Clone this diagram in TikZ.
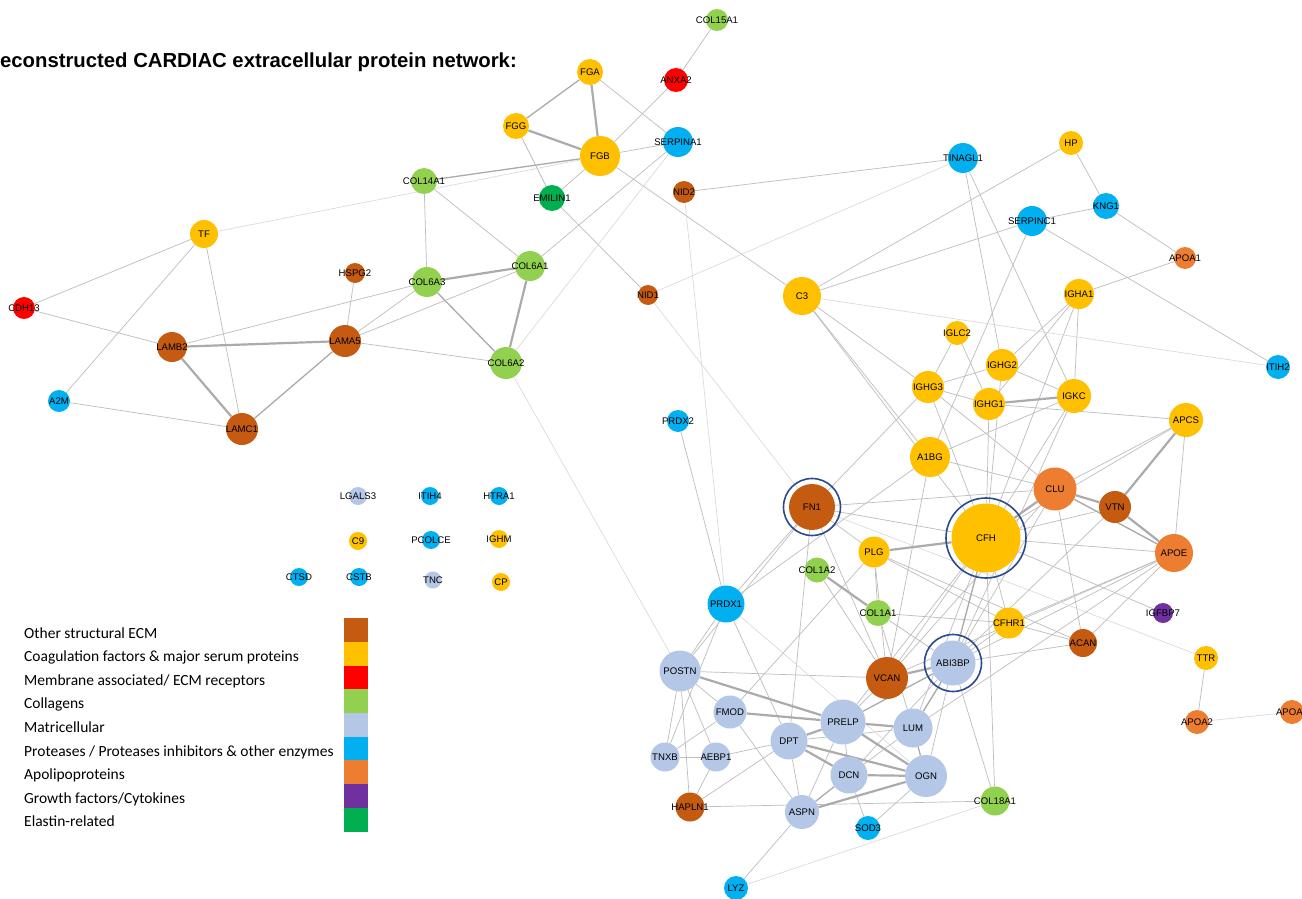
\documentclass[tikz,border=0pt]{standalone}
\usepackage{fontspec}
\setmainfont{Liberation Sans}
\newfontfamily\legfont{Carlito}
\usetikzlibrary{backgrounds}
\definecolor{cBr}{HTML}{C55A11}
\definecolor{cYe}{HTML}{FFC000}
\definecolor{cRe}{HTML}{FF0000}
\definecolor{cGr}{HTML}{92D050}
\definecolor{cLa}{HTML}{B4C7E7}
\definecolor{cBl}{HTML}{00B0F0}
\definecolor{cOr}{HTML}{ED7D31}
\definecolor{cPu}{HTML}{7030A0}
\definecolor{cEl}{HTML}{00B050}
\definecolor{cRing}{HTML}{2B4A8C}
\definecolor{cEdge}{HTML}{BDBDBD}
\definecolor{cEdgeT}{HTML}{ABABAB}
\newcommand\nd[6]{\node[nd,fill=#5,minimum size=#4pt] (#1) at (#2,#3) {};\node[lbl] (#1-l) at (#1.center) {#6};}
\tikzset{
  nd/.style={circle,draw=none,inner sep=0pt},
  lbl/.style={inner sep=0pt,font=\fontsize{9.6}{10}\selectfont,text=black},
  ring/.style={circle,draw=cRing,line width=1.6pt,fill=none,inner sep=0pt},
  e/.style={draw=cEdge,line width=0.7pt},
  el/.style={draw=cEdge!60,line width=0.6pt},
  em/.style={draw=cEdgeT,line width=1.3pt},
  et/.style={draw=cEdgeT,line width=2.2pt},
  legtxt/.style={anchor=base west,inner sep=0pt,font=\legfont\fontsize{15.5}{17}\selectfont},
  legsq/.style={draw=none,minimum width=24pt,minimum height=23.7pt,inner sep=0pt,anchor=north west}
}
\begin{document}
\begin{tikzpicture}[x=1pt,y=-1pt]
\useasboundingbox (0,0) rectangle (1302,899);
% ---- nodes ----
\nd{COLxvA}{717}{20}{22}{cGr}{COL15A1}
\nd{FGA}{590}{72}{26}{cYe}{FGA}
\nd{ANXA}{676}{80}{24}{cRe}{ANXA2}
\nd{FGG}{516}{126}{26}{cYe}{FGG}
\nd{FGB}{600}{156}{40}{cYe}{FGB}
\nd{SERPA}{678}{142}{30}{cBl}{SERPINA1}
\nd{NIDb}{684}{192}{22}{cBr}{NID2}
\nd{EMILIN}{552}{198}{26}{cEl}{EMILIN1}
\nd{COLxivA}{424}{181}{26}{cGr}{COL14A1}
\nd{TF}{204}{234}{28}{cYe}{TF}
\nd{HSPG}{355}{273}{20}{cBr}{HSPG2}
\nd{COLviC}{427}{282}{30}{cGr}{COL6A3}
\nd{COLviA}{530}{266}{30}{cGr}{COL6A1}
\nd{CDH}{24}{308}{22}{cRe}{CDH13}
\nd{LAMB}{172}{347}{30}{cBr}{LAMB2}
\nd{LAMA}{345}{341}{32}{cBr}{LAMA5}
\nd{COLviB}{506}{363}{32}{cGr}{COL6A2}
\nd{AM}{59}{401}{22}{cBl}{A2M}
\nd{LAMC}{242}{429}{32}{cBr}{LAMC1}
\nd{NIDa}{648}{295}{20}{cBr}{NID1}
\nd{PRDXb}{678}{421}{22}{cBl}{PRDX2}
\nd{TINAGL}{963}{158}{30}{cBl}{TINAGL1}
\nd{HP}{1071}{143}{24}{cYe}{HP}
\nd{KNG}{1106}{206}{26}{cBl}{KNG1}
\nd{SERPC}{1032}{221}{30}{cBl}{SERPINC1}
\nd{APOAa}{1185}{258}{22}{cOr}{APOA1}
\nd{C3}{802}{296}{38}{cYe}{C3}
\nd{IGHA}{1079}{294}{30}{cYe}{IGHA1}
\nd{IGLC}{957}{333}{24}{cYe}{IGLC2}
\nd{IGHGb}{1002}{365}{32}{cYe}{IGHG2}
\nd{IGHGc}{928}{387}{32}{cYe}{IGHG3}
\nd{IGHGa}{989}{404}{32}{cYe}{IGHG1}
\nd{IGKC}{1074}{396}{34}{cYe}{IGKC}
\nd{ITIHb}{1278}{367}{24}{cBl}{ITIH2}
\nd{APCS}{1186}{420}{34}{cYe}{APCS}
\nd{AaBG}{930}{457}{40}{cYe}{A1BG}
\nd{CLU}{1055}{489}{43}{cOr}{CLU}
\nd{VTN}{1115}{507}{32}{cBr}{VTN}
\nd{FN}{812}{507}{46}{cBr}{FN1}
\node[ring,minimum size=57pt] (FNr) at (FN) {};
\nd{CFH}{986}{538}{69}{cYe}{CFH}
\node[ring,minimum size=80pt] (CFHr) at (CFH) {};
\nd{APOE}{1174}{553}{38}{cOr}{APOE}
\nd{PLG}{874}{552}{31}{cYe}{PLG}
\nd{COLaB}{817}{570}{25}{cGr}{COL1A2}
\nd{COLaA}{878}{613}{26}{cGr}{COL1A1}
\nd{PRDXa}{726}{604}{37}{cBl}{PRDX1}
\nd{CFHR}{1009}{623}{31}{cYe}{CFHR1}
\nd{IGFBP}{1163}{613}{20}{cPu}{IGFBP7}
\nd{ACAN}{1083}{643}{28}{cBr}{ACAN}
\nd{TTR}{1206}{658}{24}{cYe}{TTR}
\nd{ABI}{953}{663}{45}{cLa}{ABI3BP}
\node[ring,minimum size=57pt] (ABIr) at (ABI) {};
\nd{VCAN}{887}{678}{42}{cBr}{VCAN}
\nd{POSTN}{680}{671}{41}{cLa}{POSTN}
\nd{FMOD}{730}{712}{33}{cLa}{FMOD}
\nd{PRELP}{843}{722}{45}{cLa}{PRELP}
\nd{LUM}{913}{728}{39}{cLa}{LUM}
\nd{DPT}{789}{741}{37}{cLa}{DPT}
\nd{APOAb}{1197}{722}{24}{cOr}{APOA2}
\nd{APOAd}{1292}{712}{24}{cOr}{APOA4}
\nd{TNXB}{665}{757}{29}{cLa}{TNXB}
\nd{AEBP}{716}{757}{29}{cLa}{AEBP1}
\nd{DCN}{849}{775}{37}{cLa}{DCN}
\nd{OGN}{926}{776}{42}{cLa}{OGN}
\nd{HAPLN}{690}{807}{29}{cBr}{HAPLN1}
\nd{ASPN}{802}{812}{34}{cLa}{ASPN}
\nd{COLxviiiA}{995}{801}{29}{cGr}{COL18A1}
\nd{SOD}{868}{828}{24}{cBl}{SOD3}
\nd{LYZ}{736}{888}{24}{cBl}{LYZ}
% isolated
\nd{LGALS}{358}{496}{18}{cLa}{LGALS3}
\nd{ITIHd}{430}{496}{18}{cBl}{ITIH4}
\nd{HTRA}{499}{496}{18}{cBl}{HTRA1}
\nd{Cix}{358}{541}{18}{cYe}{C9}
\nd{PCOLCE}{431}{540}{18}{cBl}{PCOLCE}
\nd{IGHM}{499}{539}{18}{cYe}{IGHM}
\nd{CTSD}{299}{577}{18}{cBl}{CTSD}
\nd{CSTB}{359}{577}{18}{cBl}{CSTB}
\nd{TNC}{433}{580}{17}{cLa}{TNC}
\nd{CP}{501}{582}{18}{cYe}{CP}
% ---- title ----
\node[anchor=base east,inner sep=0pt,font=\bfseries\fontsize{20.3}{24}\selectfont] (title) at (517,68) {Reconstructed CARDIAC extracellular protein network:};
% ---- legend ----
\node[legtxt] (L1) at (24,638) {Other structural ECM};
\node[legtxt] (L2) at (24,661.6) {Coagulation factors \& major serum proteins};
\node[legtxt] (L3) at (24,685.2) {Membrane associated/ ECM receptors};
\node[legtxt] (L4) at (24,708.8) {Collagens};
\node[legtxt] (L5) at (24,732.4) {Matricellular};
\node[legtxt] (L6) at (24,756) {Proteases / Proteases inhibitors \& other enzymes};
\node[legtxt] (L7) at (24,779.6) {Apolipoproteins};
\node[legtxt] (L8) at (24,803.2) {Growth factors/Cytokines};
\node[legtxt] (L9) at (24,826.8) {Elastin-related};
\node[legsq,fill=cBr] (S1) at (344,618) {};
\node[legsq,fill=cYe] (S2) at (344,641.7) {};
\node[legsq,fill=cRe] (S3) at (344,665.4) {};
\node[legsq,fill=cGr] (S4) at (344,689.1) {};
\node[legsq,fill=cLa] (S5) at (344,712.8) {};
\node[legsq,fill=cBl] (S6) at (344,736.5) {};
\node[legsq,fill=cOr] (S7) at (344,760.2) {};
\node[legsq,fill=cPu] (S8) at (344,783.9) {};
\node[legsq,fill=cEl] (S9) at (344,807.6) {};
% ---- edges ----
\begin{scope}[on background layer]
\fill[white] (0,0) rectangle (1302,899);
\foreach \a/\b in {FGA/SERPA,ANXA/COLxvA,ANXA/FGB,FGB/SERPA,FGB/EMILIN,FGB/C3,FGG/EMILIN,
  TF/CDH,TF/AM,TF/LAMC,CDH/LAMB,AM/LAMC,LAMB/COLviC,LAMA/HSPG,LAMA/COLviB,LAMA/COLviC,LAMA/COLviA,
  COLxivA/COLviC,COLxivA/COLviA,COLviA/SERPA,EMILIN/NIDa,NIDb/TINAGL,PRDXb/PRDXa,
  TINAGL/IGHGb,TINAGL/IGKC,HP/C3,HP/KNG,KNG/SERPC,KNG/APOAa,SERPC/C3,SERPC/ITIHb,SERPC/AaBG,APOAa/IGHA,
  C3/IGHGc,C3/AaBG,C3/CFH,IGLC/IGHGc,IGLC/IGHGa,IGHGb/IGHGc,IGHGb/IGKC,IGHGb/IGHA,IGHGb/CFH,
  IGHA/IGKC,IGHA/IGHGa,IGHA/CFH,IGHGc/IGHGa,IGHGc/FN,IGHGc/CLU,IGHGc/CFH,IGHGa/APCS,IGHGa/CFH,
  IGKC/AaBG,IGKC/CFH,IGKC/ABI,AaBG/CLU,AaBG/PRDXa,AaBG/VCAN,
  APCS/CLU,APCS/CFH,APCS/APOE,CLU/APOE,CLU/ACAN,CLU/FN,CLU/VCAN,CLU/ABI,VTN/CFH,VTN/ABI,
  APOE/CFH,APOE/CFHR,APOE/ACAN,APOE/ABI,APOE/VCAN,APOE/LUM,CFH/IGFBP,CFH/CFHR,CFHR/ACAN,
  ACAN/ABI,CFHR/ABI,TTR/APOAb,
  FN/CFH,FN/PRDXa,FN/POSTN,FN/VCAN,FN/DPT,FN/PLG,PLG/COLaA,PLG/VCAN,PLG/FMOD,PLG/CFHR,PLG/ACAN,
  COLaB/VCAN,COLaA/ABI,COLaA/LUM,COLaA/CFHR,CFH/VCAN,CFH/ABI,CFH/PRELP,CFH/LUM,CFH/COLxviiiA,
  PRDXa/POSTN,PRDXa/DPT,PRDXa/TNXB,
  POSTN/VCAN,POSTN/FMOD,POSTN/TNXB,POSTN/AEBP,POSTN/HAPLN,FMOD/TNXB,FMOD/ASPN,TNXB/AEBP,
  AEBP/HAPLN,AEBP/DPT,HAPLN/DPT,HAPLN/COLxviiiA,DPT/ASPN,DPT/LUM,PRELP/ASPN,PRELP/DCN,PRELP/VCAN,
  LUM/DCN,LUM/ABI,DCN/ABI,DCN/SOD,OGN/SOD,OGN/ABI,ASPN/LYZ,ABI/COLxviiiA}
  \draw[e] (\a) -- (\b);
\foreach \a/\b in {TF/FGB,COLviB/SERPA,COLviB/POSTN,NIDa/TINAGL,NIDa/FN,NIDb/PRDXa,C3/ITIHb,
  FN/TTR,APOAb/APOAd,PRDXa/OGN,LYZ/COLxviiiA}
  \draw[el] (\a) -- (\b);
\foreach \a/\b in {FGA/FGG,COLxivA/FGB,LAMA/LAMC,COLviC/COLviB,CLU/APOE,CFH/ABI,DCN/ASPN,LUM/OGN,ABI/LUM,PRELP/ABI}
  \draw[em] (\a) -- (\b);
\foreach \a/\b in {FGA/FGB,FGG/FGB,LAMB/LAMA,LAMB/LAMC,COLviC/COLviA,COLviA/COLviB,IGHGa/IGKC,
  APCS/VTN,CLU/VTN,VTN/APOE,CLU/CFH,PLG/CFH,COLaB/COLaA,VCAN/ABI,POSTN/PRELP,FMOD/PRELP,
  DPT/PRELP,DPT/DCN,DPT/OGN,PRELP/LUM,PRELP/OGN,DCN/OGN,OGN/ASPN}
  \draw[et] (\a) -- (\b);
\end{scope}
\end{tikzpicture}
\end{document}
